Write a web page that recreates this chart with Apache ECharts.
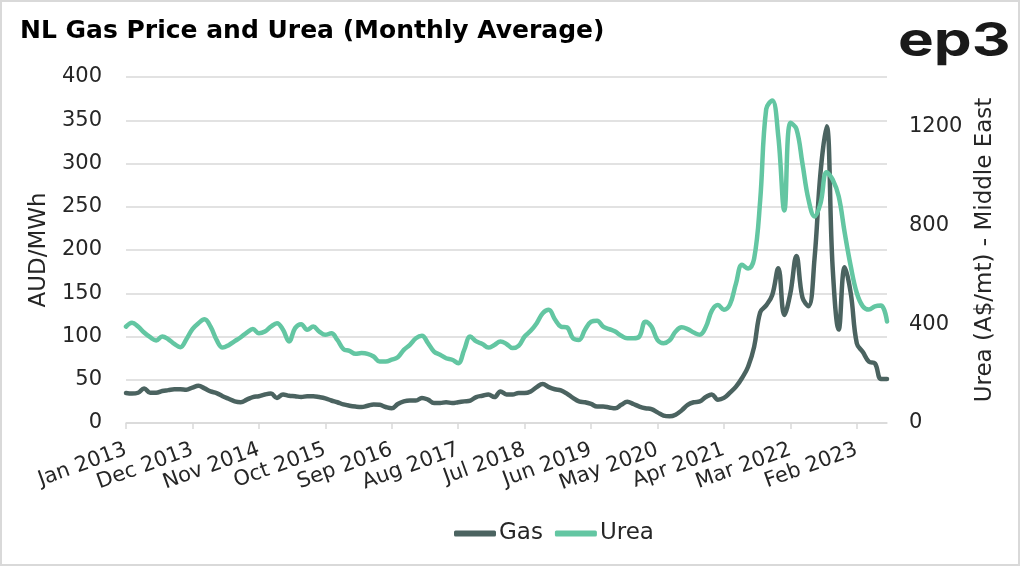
<!DOCTYPE html>
<html><head><meta charset="utf-8">
<script src="https://cdn.jsdelivr.net/npm/echarts@6/dist/echarts.min.js"></script>
<style>html,body{margin:0;padding:0;background:#fff}#c{width:1024px;height:569px}</style>
</head><body><div id="c"></div>
<script>
const monthNames = ['Jan','Feb','Mar','Apr','May','Jun','Jul','Aug','Sep','Oct','Nov','Dec'];
const startYear = 2013, monthCount = 127;
const categories = [];
for (let i = 0; i < monthCount; i++) categories.push(monthNames[i % 12] + ' ' + (startYear + Math.floor(i / 12)));

const gas = [34.6,34,35,40,35,35,37,38,39,39,38.5,41,43,40,36.5,34.6,31,28,25,24,
27,30,31,33,34,29,33,31.5,31,30,31,31,30,28.5,26,24,21.5,20,19,18.5,
20,21.5,21,18.5,17,22,25,26,26,29,27,23,23,24,23,24,25,26,30,31.5,
33,30,36.5,33,33,34.6,34.6,36.5,41.5,45,41.5,39,37.7,34,29,25,24,22,19,19,
18,17,21,24.6,22,19,17,16,12.3,8.5,7.7,9.6,14.6,21,24,25,30,33,27,29,
35,42,52,65,88,128,136,148,179,125,150,193,145,135,190,290,343,180,108,180,
150,92,82,71,69,51,51];

const urea = [390,406,390,366,347,334,350,339,320,307,339,380,404,420,390,336,305,315,331,347,
366,380,363,370,390,404,377,330,384,400,377,390,370,357,363,336,299,292,280,283,
280,269,249,249,256,266,296,316,343,353,323,289,276,262,256,242,296,350,330,320,
305,316,330,320,303,312,350,373,404,444,458,420,390,387,343,336,377,410,414,390,
380,370,353,343,343,350,410,390,336,323,334,370,387,380,366,357,388,455,477,458,
480,565,640,625,665,900,1270,1305,1160,860,1215,1190,1050,904,836,890,1015,985,917,769,
634,526,472,459,472,475,411];

const leftTicks = [0,50,100,150,200,250,300,350,400];
const rightTicks = [0,400,800,1200];

const FONT = 'DejaVu Sans';
const TXT = '#262626';
const chart = echarts.init(document.getElementById('c'));
chart.setOption({
  animation: false,
  backgroundColor: '#fff',
  textStyle: { fontFamily: FONT },
  title: {
    text: 'NL Gas Price and Urea (Monthly Average)',
    left: 15, top: 14,
    textStyle: { fontFamily: FONT, fontWeight: 'bold', fontSize: 25, color: '#000' }
  },
  graphic: [
    { type: 'rect', shape: { x: 1, y: 1, width: 1018, height: 564 }, style: { fill: 'none', stroke: '#d9d9d9', lineWidth: 2 }, silent: true, z: -1 },
    { type: 'text', x: 898, y: 18, scaleX: 1.28, style: { text: 'ep3', font: '700 47px Inter', fill: '#1a1a1a' } }
  ],
  legend: {
    bottom: 19, left: 449,
    itemWidth: 42, itemHeight: 6, itemGap: 12,
    icon: 'roundRect',
    textStyle: { fontFamily: FONT, fontSize: 23, color: TXT, padding: [0,0,0,-2] },
    data: ['Gas', 'Urea']
  },
  grid: { left: 126, right: 137, top: 77, bottom: 146 },
  xAxis: {
    type: 'category', data: categories, boundaryGap: false,
    axisLine: { lineStyle: { color: '#d9d9d9', width: 1.5 } },
    axisTick: { interval: 10, length: 6, lineStyle: { color: '#d9d9d9', width: 1.5 } },
    axisLabel: { interval: 10, rotate: 20, margin: 26, fontSize: 21, color: TXT, fontFamily: FONT }
  },
  yAxis: [
    {
      type: 'value', min: 0, max: 400, interval: 50,
      name: 'AUD/MWh', nameLocation: 'middle', nameGap: 70,
      nameTextStyle: { fontSize: 23, color: TXT, fontFamily: FONT },
      axisLine: { show: false }, axisTick: { show: false },
      axisLabel: { fontSize: 21, color: TXT, margin: 24, fontFamily: FONT },
      splitLine: { lineStyle: { color: '#d9d9d9', width: 1.5 } }
    },
    {
      type: 'value', min: 0, max: 1400, interval: 400,
      name: 'Urea (A$/mt) - Middle East', nameLocation: 'middle', nameGap: 82, nameRotate: 90,
      nameTextStyle: { fontSize: 23, color: TXT, fontFamily: FONT },
      axisLine: { show: false }, axisTick: { show: false },
      axisLabel: { fontSize: 21, color: TXT, margin: 22, fontFamily: FONT,
        formatter: v => rightTicks.includes(v) ? String(v) : '' },
      splitLine: { show: false }
    }
  ],
  series: [
    { name: 'Gas', type: 'line', data: gas, yAxisIndex: 0, smooth: 0.4, showSymbol: false, symbol: 'none',
      lineStyle: { color: '#4b6360', width: 4.5, cap: 'round', join: 'round' }, itemStyle: { color: '#4b6360' } },
    { name: 'Urea', type: 'line', data: urea, yAxisIndex: 1, smooth: 0.4, showSymbol: false, symbol: 'none',
      lineStyle: { color: '#63c6a2', width: 4.5, cap: 'round', join: 'round' }, itemStyle: { color: '#63c6a2' } }
  ]
});
</script></body></html>
